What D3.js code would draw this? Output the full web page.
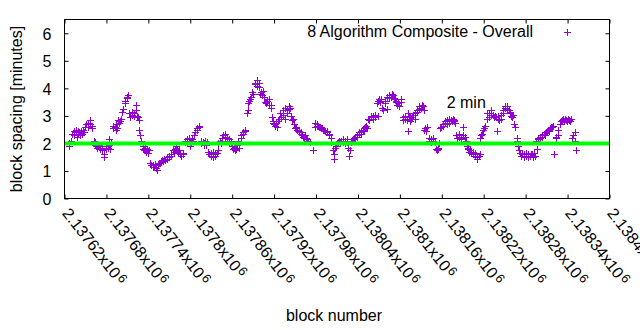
<!DOCTYPE html>
<html><head><meta charset="utf-8">
<script src="https://cdn.jsdelivr.net/npm/d3@7"></script>
<style>
body{margin:0;background:#fff;}
svg text{font-family:"Liberation Sans",Arial,sans-serif;font-size:16px;fill:#000;}
</style>
</head><body>
<svg id="chart" width="640" height="330"></svg>
<script>
// ---- data ----
const blockNumbers = [
2137626,2137627,2137630,2137631,2137633,2137634,2137636,2137637,2137638,2137639,2137640,2137641,2137642,2137644,2137645,2137647,2137648,2137650,2137651,2137653,2137654,2137656,2137657,2137659,2137660,
2137662,2137663,2137664,2137665,2137667,2137668,2137670,2137671,2137673,2137674,2137676,2137677,2137679,2137680,2137682,2137683,2137684,2137685,2137687,
2137689,2137690,2137692,2137693,2137694,2137695,2137697,2137698,2137700,2137701,2137703,2137704,2137706,2137707,2137709,2137710,2137711,
2137713,2137714,2137716,2137717,2137719,2137720,2137722,2137723,2137724,2137725,2137726,2137727,2137728,2137729,
2137732,2137733,2137734,2137735,2137737,2137738,2137740,2137741,2137743,2137744,2137746,2137747,2137748,2137749,2137751,2137752,2137754,2137755,
2137757,2137758,2137760,2137761,2137763,2137764,2137766,2137767,2137769,2137770,2137772,2137773,2137775,2137776,2137778,2137779,2137780,2137781,
2137783,2137784,2137786,2137787,2137789,2137790,2137792,2137793,2137795,2137796,2137798,2137799,2137800,2137801,2137803,2137804,2137806,2137807,
2137809,2137810,2137812,2137813,2137815,2137816,2137818,2137819,2137820,2137821,2137823,2137824,2137826,2137827,2137829,2137830,2137832,2137833,
2137835,2137836,2137838,2137839,2137840,2137843,2137844,2137846,2137847,2137849,2137850,2137852,2137853,2137855,2137856,2137858,2137859,
2137860,2137861,2137863,2137864,2137866,2137867,2137869,2137870,2137872,2137873,2137875,2137876,2137878,2137879,
2137881,2137882,2137883,2137884,2137886,2137887,2137889,2137890,2137892,2137893,2137895,2137896,2137898,2137899,2137900,2137901,2137903,2137904,
2137906,2137907,2137909,2137910,2137912,2137913,2137915,2137916,2137917,2137918,2137919,2137920,2137921,2137923,2137924,2137926,2137927,
2137929,2137930,2137932,2137933,2137935,2137936,2137938,2137939,2137941,2137942,2137943,2137944,2137946,2137947,2137949,2137950,
2137952,2137953,2137955,2137956,2137958,2137959,2137960,2137961,2137963,2137964,2137966,2137967,2137969,2137972,2137975,
2137978,2137979,2137981,2137982,2137983,2137984,2137986,2137987,2137989,2137990,2137992,2137993,2137995,2137996,2137998,2137999,
2138001,2138002,2138004,2138005,2138006,2138007,2138009,2138010,2138012,2138013,2138015,2138016,2138018,2138019,2138021,2138022,
2138024,2138025,2138026,2138027,2138029,2138030,2138032,2138033,2138035,2138036,2138038,2138039,2138041,2138042,2138044,2138045,
2138047,2138048,2138049,2138050,2138052,2138053,2138055,2138056,2138058,2138059,2138061,2138062,2138064,2138065,2138067,2138068,
2138069,2138070,2138072,2138073,2138075,2138076,2138078,2138079,2138081,2138082,2138084,2138085,2138087,2138088,2138090,2138091,
2138093,2138094,2138095,2138096,2138098,2138099,2138101,2138102,2138104,2138105,2138107,2138108,2138110,2138111,2138112,2138113,2138114,
2138115,2138116,2138118,2138119,2138121,2138122,2138124,2138125,2138127,2138128,2138130,2138131,2138133,2138134,2138135,2138136,
2138138,2138139,2138141,2138142,2138144,2138145,2138147,2138148,2138150,2138151,2138153,2138154,2138155,2138156,
2138158,2138159,2138161,2138162,2138164,2138165,2138167,2138168,2138170,2138171,2138173,2138174,2138176,2138177,2138178,2138179,
2138181,2138182,2138184,2138185,2138187,2138188,2138190,2138191,2138193,2138194,2138196,2138197,2138198,2138199,2138201,2138202,
2138204,2138205,2138207,2138208,2138210,2138211,2138213,2138214,2138215,2138216,2138218,2138219,2138221,2138222,2138224,2138225,
2138227,2138228,2138230,2138231,2138233,2138234,2138236,2138237,2138239,2138240,2138241,2138242,2138244,2138245,2138247,2138248,
2138250,2138251,2138253,2138254,2138256,2138257,2138258,2138259,2138261,2138262,2138264,2138265,2138267,2138268,2138269,
2138271,2138272,2138274,2138275,2138277,2138278,2138280,2138281,2138283,2138284,2138286,2138287,2138289,2138290,2138292,2138293,
2138295,2138296,2138297,2138298,2138300,2138301,2138303,2138304,2138306,2138307,2138309,2138310,2138312,2138313,2138315,2138316,
2138318,2138319,2138321,2138323,2138324,2138326,2138327,2138329,2138330,2138332,2138333,2138335,2138336,2138338,2138339,
2138341,2138342,2138344,2138345,2138347,2138348,2138350,2138351,2138352
];
const spacingMinutes = [
2.0,1.9,2.1,2.35,2.45,2.3,2.4,2.5,2.25,2.35,2.45,2.4,2.3,2.45,2.35,2.5,2.4,2.6,2.7,2.75,2.6,2.85,2.7,2.55,2.65,
2.1,2.05,1.95,1.9,1.85,1.95,1.9,1.8,1.75,1.85,1.5,1.6,1.8,1.9,1.85,1.95,2.15,1.8,2.0,
2.55,2.65,2.6,2.5,2.7,2.55,2.85,2.75,2.8,2.9,3.15,3.25,3.55,3.45,3.7,3.65,3.75,
3.1,2.95,3.05,3.15,3.0,3.1,3.2,3.4,3.0,2.95,2.85,2.5,2.3,2.1,
1.9,1.8,1.75,1.85,1.7,1.8,1.65,1.75,1.3,1.2,1.2,1.15,1.15,1.25,1.1,1.05,1.2,1.3,
1.3,1.35,1.4,1.35,1.45,1.4,1.5,1.45,1.55,1.5,1.6,1.55,1.75,1.7,1.8,1.85,1.9,1.75,
1.65,1.75,1.6,1.55,1.6,1.65,2.05,2.1,2.15,2.0,2.2,2.1,1.9,2.05,2.15,2.1,2.3,2.4,
2.5,2.55,2.6,2.65,2.1,2.0,2.05,1.95,2.0,2.1,1.95,2.05,1.7,1.6,1.55,1.65,1.5,1.7,
1.6,1.55,1.65,1.75,2.0,2.1,2.0,2.2,2.3,2.35,2.25,2.2,2.1,2.05,2.15,2.0,2.1,
1.9,1.8,1.85,1.75,1.8,1.95,2.1,1.85,2.2,2.3,2.4,2.35,2.45,2.5,
3.1,3.2,3.45,3.55,3.6,3.7,3.85,3.8,4.15,4.2,4.3,4.1,4.05,4.2,3.8,3.85,3.75,3.9,
3.7,3.5,3.45,3.55,3.4,3.6,3.3,3.4,2.95,2.8,2.75,2.7,2.65,2.75,2.6,2.8,2.9,
3.1,2.95,3.05,3.2,3.3,2.9,3.1,3.2,3.35,3.25,3.3,3.0,2.85,2.9,2.7,2.55,
2.6,2.5,2.45,2.4,2.4,2.35,2.3,2.25,2.2,2.3,2.2,2.15,2.1,2.05,1.75,
2.75,2.6,2.7,2.65,2.65,2.6,2.6,2.55,2.55,2.5,2.5,2.45,2.45,2.4,2.35,2.3,
2.2,2.05,1.75,1.6,1.45,1.85,1.9,2.0,2.05,2.1,2.0,2.1,2.05,2.15,2.1,2.0,
2.15,2.05,1.85,1.55,1.75,2.05,2.1,2.15,2.2,2.25,2.3,2.25,2.35,2.4,2.45,2.35,
2.5,2.45,2.55,2.6,2.65,2.55,2.9,2.85,2.95,3.0,3.0,2.9,2.95,3.05,3.45,3.0,
3.55,3.6,3.5,3.6,3.3,3.2,3.55,3.45,3.25,3.7,3.65,3.75,3.7,3.8,3.75,3.65,
3.6,3.5,3.55,3.4,3.45,3.35,3.5,3.6,2.95,2.85,2.9,3.0,2.85,3.1,2.45,2.95,2.8,
3.0,2.9,2.95,3.05,2.9,3.1,3.2,3.15,3.35,3.25,3.3,3.4,3.35,3.2,2.5,2.55,
2.45,2.6,2.2,2.1,2.15,2.05,2.1,2.2,2.05,1.8,1.75,1.85,1.8,2.0,
2.55,2.6,2.7,2.65,2.75,2.8,2.7,2.85,2.9,2.75,2.85,2.8,2.9,2.8,2.85,2.75,
2.3,2.2,2.25,2.35,2.2,2.15,2.6,2.3,2.25,2.1,1.9,1.85,1.8,1.7,1.75,1.65,
1.6,1.7,1.55,1.65,1.5,1.45,1.55,1.6,2.2,2.3,2.35,2.5,2.55,2.65,2.9,3.1,
3.1,2.95,3.2,3.05,3.05,2.95,3.0,2.95,2.45,2.9,3.0,2.85,3.05,2.9,3.2,3.1,
3.3,3.35,3.35,3.25,3.2,3.1,3.15,3.0,2.95,3.05,2.7,2.6,2.2,2.1,1.9,
1.75,1.65,1.55,1.6,1.5,1.6,1.55,1.65,1.6,1.5,1.55,1.6,1.6,1.5,1.65,1.55,
2.1,1.8,2.15,2.2,2.2,2.25,2.25,2.3,2.35,2.3,2.4,2.45,2.5,2.45,2.55,2.6,
2.6,2.65,1.6,2.25,2.2,2.3,2.5,2.7,2.8,2.85,2.9,2.8,2.9,2.85,2.8,
2.9,2.85,2.8,2.9,2.2,2.3,2.1,2.4,1.75
];
const xTickValues = [2137620,2137680,2137740,2137800,2137860,2137920,2137980,2138040,2138100,2138160,2138220,2138280,2138340,2138400];
const yTickValues = [0,1,2,3,4,5,6];
const xDomain = [2137620, 2138400];
const yDomain = [0, 6.5];
const referenceMinutes = 2;
const seriesName = "8 Algorithm Composite - Overall";
const noteText = "2 min";
const noteBlock = 2138167;
const noteMinutes = 3.5;
const xTitle = "block number";
const yTitle = "block spacing [minutes]";

// ---- drawing ----
const svg = d3.select("#chart");
const L = 64.5, R = 609.5, T = 19.5, B = 198.5;
const x = d3.scaleLinear().domain(xDomain).range([L, R]);
const y = d3.scaleLinear().domain(yDomain).range([B, T]);
const purple = "#9400d3";
const cross = "M-3.5,0H3.5M0,-3.5V3.5";

// axes (ticks pointing inward, mirrored)
const gl = svg.append("g").attr("transform", `translate(${L},0)`)
  .call(d3.axisLeft(y).tickValues(yTickValues).tickSize(-4).tickPadding(13).tickFormat(d3.format("d")));
const gr = svg.append("g").attr("transform", `translate(${R},0)`)
  .call(d3.axisRight(y).tickValues(yTickValues).tickSize(-4).tickFormat(""));
const gb = svg.append("g").attr("transform", `translate(0,${B})`)
  .call(d3.axisBottom(x).tickValues(xTickValues).tickSize(-4).tickFormat(""));
const gt = svg.append("g").attr("transform", `translate(0,${T})`)
  .call(d3.axisTop(x).tickValues(xTickValues).tickSize(-4).tickFormat(""));
[gl, gr, gb, gt].forEach(g => {
  g.select(".domain").remove();
  g.selectAll(".tick line").attr("stroke", "#000");
  g.attr("font-family", null).attr("font-size", null);
});
gl.selectAll(".tick text").attr("dy", "0.36em");

// rotated x tick labels with superscript exponent
gb.selectAll(".tick").each(function(d) {
  const t = d3.select(this).append("text")
    .attr("transform", "translate(-3.5,15) rotate(52)")
    .attr("text-anchor", "start");
  t.append("tspan").text(String(+(d / 1e6).toFixed(5)) + "x10");
  t.append("tspan").attr("dx", 1.5).attr("dy", -4).style("font-size", "12.8px").text("6");
});

// points
svg.append("g").selectAll("path")
  .data(blockNumbers.map((b, i) => [b, spacingMinutes[i]]))
  .join("path")
  .attr("transform", d => `translate(${Math.round(x(d[0])) + 0.5},${Math.round(y(d[1])) + 0.5})`)
  .attr("d", cross)
  .attr("fill", "none")
  .attr("stroke", purple)
  .attr("stroke-width", 1);

// 2-minute reference line
svg.append("line")
  .attr("x1", L).attr("x2", R)
  .attr("y1", y(referenceMinutes)).attr("y2", y(referenceMinutes))
  .attr("stroke", "#00ff00").attr("stroke-width", 4);

// border
svg.append("rect").attr("x", L).attr("y", T).attr("width", R - L).attr("height", B - T)
  .attr("fill", "none").attr("stroke", "#000").attr("stroke-width", 1);

// legend
svg.append("text").attr("x", 533).attr("y", 37).attr("text-anchor", "end").text(seriesName);
svg.append("path").attr("transform", "translate(567.5,32.5)").attr("d", cross)
  .attr("fill", "none").attr("stroke", purple).attr("stroke-width", 1);

// note
svg.append("text").attr("x", x(noteBlock)).attr("y", y(noteMinutes) + 5.5).text(noteText);

// titles
svg.append("text").attr("x", 334).attr("y", 321).attr("text-anchor", "middle").text(xTitle);
svg.append("text").attr("transform", "translate(21.5,109) rotate(-90)").attr("text-anchor", "middle").text(yTitle);
</script>
</body></html>
